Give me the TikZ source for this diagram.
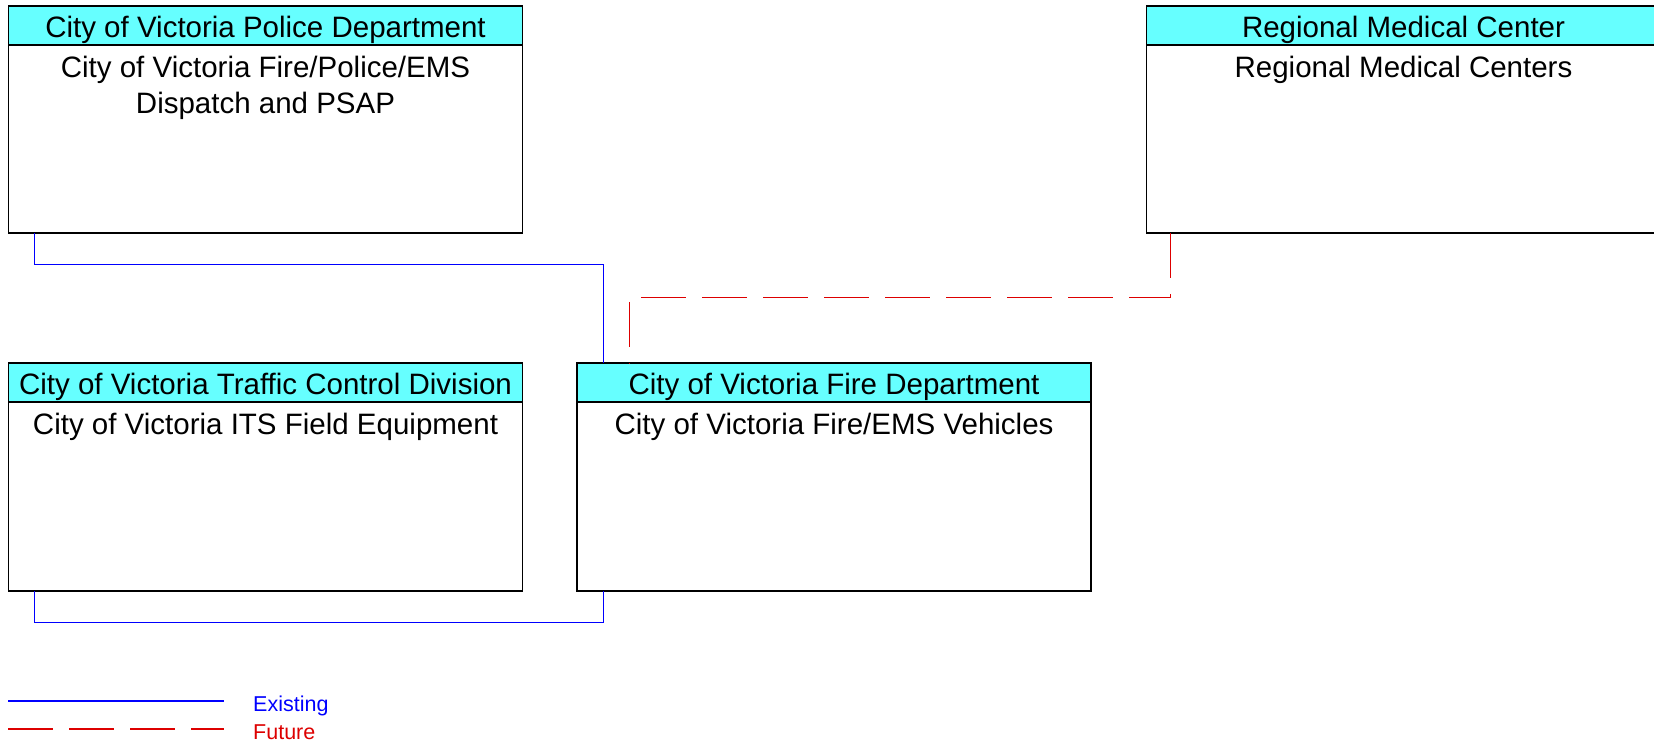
\documentclass[tikz,border=0pt]{standalone}
\usepackage{fontspec}
\setmainfont{Liberation Sans}
\usetikzlibrary{calc}
\definecolor{hdrcyan}{HTML}{66FFFF}
\definecolor{existc}{HTML}{0000FF}
\definecolor{futc}{HTML}{DD0000}
\begin{document}
\begin{tikzpicture}[x=1pt,y=-1pt,
  box/.style={draw=black,line width=1.5pt,fill=white,rectangle,inner sep=0pt,outer sep=0pt,minimum width=514pt,minimum height=227pt,anchor=north west},
  hdrbox/.style={draw=black,line width=1.5pt,fill=hdrcyan,rectangle,inner sep=0pt,outer sep=0pt,minimum width=514pt,minimum height=39pt,anchor=north west},
  lbl/.style={inner sep=0pt,anchor=base,font=\fontsize{29.5}{36}\selectfont},
  legtext/.style={inner sep=0pt,anchor=base west,font=\fontsize{21.5}{26}\selectfont},
  exist/.style={draw=existc,line width=1pt},
  future/.style={draw=futc,line width=1pt,dash pattern=on 45pt off 16pt},
]
\useasboundingbox (0,0) rectangle (1654,745);

% boxes
\node[box] (police) at (8.5,6) {};
\node[hdrbox] (policeH) at (police.north west) {};
\node[lbl] (policeT) at ($(policeH.south)+(0,-8)$) {City of Victoria Police Department};
\node[lbl] (policeB1) at ($(policeH.south)+(0,32)$) {City of Victoria Fire/Police/EMS};
\node[lbl] (policeB2) at ($(policeH.south)+(0,68)$) {Dispatch and PSAP};

\node[box] (med) at (1146.5,6) {};
\node[hdrbox] (medH) at (med.north west) {};
\node[lbl] (medT) at ($(medH.south west)+(257,-8)$) {Regional Medical Center};
\node[lbl] (medB) at ($(medH.south west)+(257,32)$) {Regional Medical Centers};

\node[box,minimum height=228pt] (traffic) at (8.5,363) {};
\node[hdrbox] (trafficH) at (traffic.north west) {};
\node[lbl] (trafficT) at ($(trafficH.south)+(0,-8)$) {City of Victoria Traffic Control Division};
\node[lbl] (trafficB) at ($(trafficH.south)+(0,32)$) {City of Victoria ITS Field Equipment};

\node[box,minimum height=228pt] (fire) at (577,363) {};
\node[hdrbox] (fireH) at (fire.north west) {};
\node[lbl] (fireT) at ($(fireH.south)+(0,-8)$) {City of Victoria Fire Department};
\node[lbl] (fireB) at ($(fireH.south)+(0,32)$) {City of Victoria Fire/EMS Vehicles};

% connector end points
\coordinate (pA) at ($(police.south west)+(26.3,0)$);
\coordinate (fA) at ($(fire.north west)+(26.4,0)$);
\coordinate (tA) at ($(traffic.south west)+(26.3,0)$);
\coordinate (fB) at ($(fire.south west)+(26.4,0)$);
\coordinate (mA) at ($(med.south west)+(24.3,0)$);
\coordinate (fC) at ($(fire.north west)+(52.7,0)$);

\draw[exist] (pA) -- ++(0,31) -| (fA);
\draw[exist] (tA) -- ++(0,31) -| (fB);
\draw[future] (mA) -- ++(0,64) -| (fC);

% legend
\coordinate (e1) at (8.4,701);
\coordinate (e2) at (223.6,701);
\coordinate (u1) at (8.4,729);
\coordinate (u2) at (223.6,729);
\draw[exist,line width=1.6pt] (e1) -- (e2);
\draw[future,line width=1.6pt] (u1) -- (u2);
\node[legtext,text=existc] (eT) at (253,711) {Existing};
\node[legtext,text=futc] (uT) at (253,739) {Future};
\end{tikzpicture}
\end{document}
